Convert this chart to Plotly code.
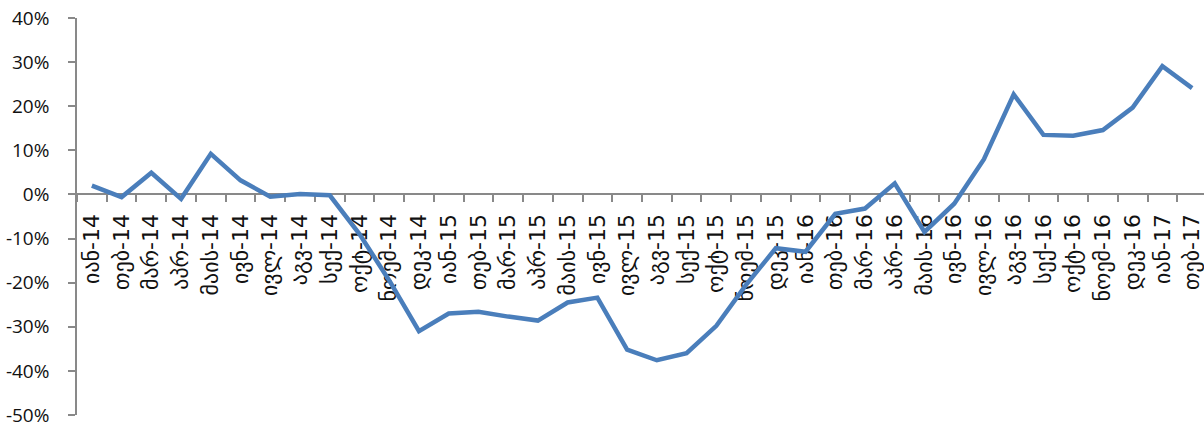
import plotly.graph_objects as go

# Monthly categories (Georgian abbreviations), Jan 2014 – Feb 2017
months = ["იან", "თებ", "მარ", "აპრ", "მაის", "ივნ", "ივლ", "აგვ", "სექ", "ოქტ", "ნოემ", "დეკ"]
categories = [f"{m}-{y}" for y in ("14", "15", "16") for m in months] + ["იან-17", "თებ-17"]

# Year-on-year change, %
values = [
    2.0, -0.6, 4.9, -1.0, 9.2, 3.2, -0.5, 0.1, -0.2, -9.0, -19.5, -31.0,
    -27.0, -26.6, -27.7, -28.6, -24.5, -23.4, -35.2, -37.6, -36.0, -29.8, -20.5, -12.2,
    -13.0, -4.4, -3.2, 2.5, -8.5, -2.1, 8.0, 22.7, 13.5, 13.3, 14.6, 19.7,
    29.1, 24.1,
]

y_min, y_max = -50, 40
y_ticks = list(range(y_min, y_max + 1, 10))

fig = go.Figure(
    go.Scatter(
        x=categories,
        y=values,
        mode="lines",
        line=dict(color="#4a7ebb", width=4.5),
        hoverinfo="x+y",
    )
)

axis_color = "#898989"
fig.update_layout(
    width=1204,
    height=427,
    margin=dict(l=77, r=0, t=18, b=12),
    paper_bgcolor="white",
    plot_bgcolor="white",
    showlegend=False,
    font=dict(family="Open Sans, DejaVu Sans, sans-serif", color="#111111"),
    xaxis=dict(
        type="category",
        range=[-0.5, len(categories) - 0.6],
        anchor="free",
        position=(0 - y_min) / (y_max - y_min),
        showline=True,
        linecolor=axis_color,
        linewidth=1.5,
        ticks="outside",
        tickson="boundaries",
        ticklen=7,
        tickcolor=axis_color,
        tickwidth=1.5,
        tickangle=-90,
        tickfont=dict(family="DejaVu Sans, sans-serif", size=22),
        ticklabelstandoff=10,
        showgrid=False,
        zeroline=False,
        automargin=False,
        layer="below traces",
    ),
    yaxis=dict(
        range=[y_min - 0.01, y_max],
        tickvals=y_ticks,
        ticktext=[f"{v}%" for v in y_ticks],
        showline=True,
        linecolor=axis_color,
        linewidth=1.5,
        ticks="outside",
        ticklen=7,
        tickcolor=axis_color,
        tickwidth=1.5,
        tickfont=dict(family="Open Sans, sans-serif", size=19),
        ticklabelstandoff=15,
        ticklabeloverflow="allow",
        showgrid=False,
        zeroline=False,
        automargin=False,
    ),
)

fig.write_html("out.html")
